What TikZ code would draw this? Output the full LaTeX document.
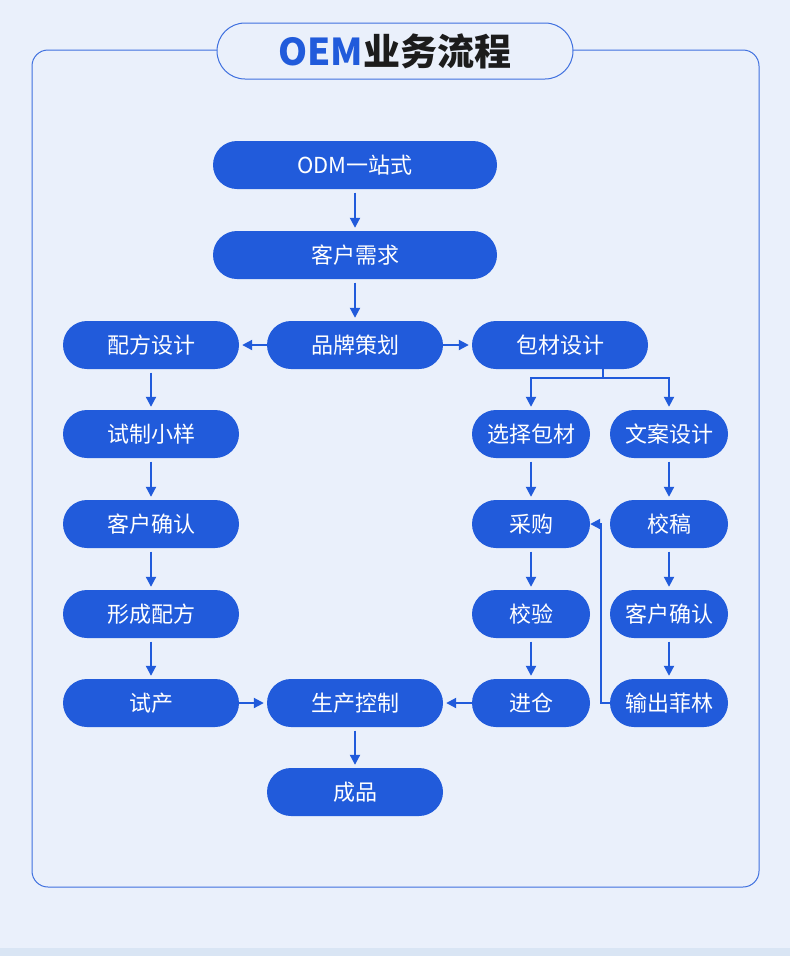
\documentclass[tikz,border=0pt]{standalone}
\usepackage{fontspec}
\setmainfont{Noto Sans CJK SC}
\usetikzlibrary{arrows.meta, positioning}
\definecolor{flowblue}{HTML}{215BDB}
\definecolor{pagebg}{HTML}{EAF0FB}
\definecolor{stripbg}{HTML}{D9E5F4}
\definecolor{framebl}{HTML}{3F70DF}
\definecolor{titleink}{HTML}{1C1C1C}
\tikzset{
    pill/.style={
        fill=flowblue, text=white, rounded corners=24pt,
        minimum height=48pt, inner sep=0pt,
        font=\fontsize{22}{26}\selectfont
    },
    wide/.style={pill, minimum width=176pt},
    narrow/.style={pill, minimum width=118pt},
    long/.style={pill, minimum width=284pt},
    flow/.style={
        flowblue, line width=2pt,
        shorten <=3.5pt, shorten >=3pt,
        -{Triangle[length=10pt, width=10pt]}
    },
    sideflow/.style={flow, shorten <=0pt}
}

\begin{document}
\begin{tikzpicture}[x=1pt, y=-1pt]
	\useasboundingbox (0,0) rectangle (790,956);
	\fill[pagebg] (0,0) rectangle (790,956);
	\fill[stripbg] (0,948) rectangle (790,956);
	
	% frame and title
	\draw[framebl, line width=1pt, rounded corners=16pt] (32,50) rectangle (759,887);
	\node[draw=framebl, line width=1pt, fill=pagebg, rounded corners=28pt,
	      minimum width=356pt, minimum height=56pt, inner sep=0pt,
	      font=\fontsize{37}{40}\selectfont\bfseries] (title) at (395,51)
	      {\textcolor{flowblue}{OEM}\textcolor{titleink}{业务流程}};
	
	% middle column
	\node[long] (odm) at (355,165) {ODM一站式};
	\node[long] (demand) at (355,255) {客户需求};
	\node[wide] (brand) at (355,345) {品牌策划};
	\node[wide] (produce) at (355,703) {生产控制};
	\node[wide] (product) at (355,792) {成品};
	
	% left column
	\node[wide] (formula) at (151,345) {配方设计};
	\node[wide] (sample) at (151,434) {试制小样};
	\node[wide] (confirmL) at (151,524) {客户确认};
	\node[wide] (recipe) at (151,614) {形成配方};
	\node[wide] (trial) at (151,703) {试产};
	
	% right columns
	\node[wide] (pack) at (560,345) {包材设计};
	\node[narrow] (select) at (531,434) {选择包材};
	\node[narrow] (buy) at (531,524) {采购};
	\node[narrow] (check) at (531,614) {校验};
	\node[narrow] (store) at (531,703) {进仓};
	\node[narrow] (copy) at (669,434) {文案设计};
	\node[narrow] (proof) at (669,524) {校稿};
	\node[narrow] (confirmR) at (669,614) {客户确认};
	\node[narrow] (film) at (669,703) {输出菲林};
	
	% connectors
	\draw[flow] (odm) -- (demand);
	\draw[flow] (demand) -- (brand);
	\draw[sideflow] (brand) -- (formula);
	\draw[sideflow] (brand) -- (pack);
	\foreach \a/\b in {formula/sample, sample/confirmL, confirmL/recipe, recipe/trial,
	                   select/buy, buy/check, check/store,
	                   copy/proof, proof/confirmR, confirmR/film} {
		\draw[flow] (\a) -- (\b);
	}
	\draw[sideflow] (trial) -- (produce);
	\draw[sideflow] (store) -- (produce);
	\draw[flow] (produce) -- (product);
	
	\draw[flowblue, line width=2pt] ([xshift=43pt]pack.south) -- ++(0,9) coordinate (split);
	\draw[sideflow] (split) -| (select.north);
	\draw[sideflow] (split) -| (copy.north);
	\draw[sideflow, shorten >=0pt] (film.west) -- ++(-9,0) |- (buy.east);
	
\end{tikzpicture}
\end{document}
